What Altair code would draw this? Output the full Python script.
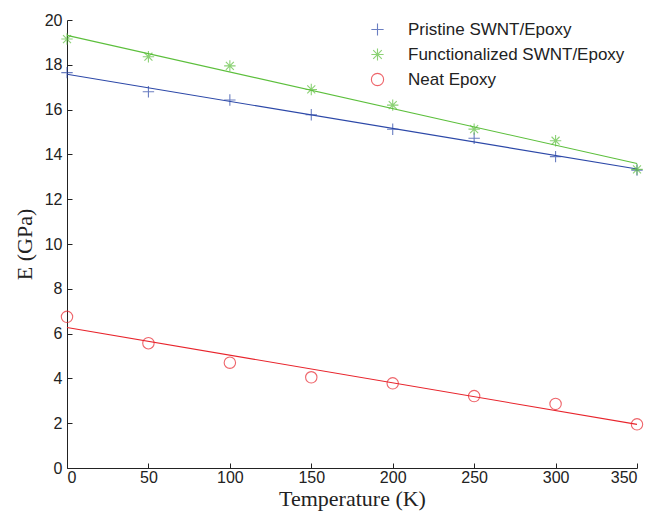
import altair as alt
import pandas as pd

temps = [0, 50, 100, 150, 200, 250, 300, 350]
pristine = [17.65, 16.80, 16.43, 15.77, 15.12, 14.72, 13.90, 13.30]
functionalized = [19.15, 18.36, 17.95, 16.90, 16.20, 15.13, 14.61, 13.33]
neat = [6.75, 5.57, 4.70, 4.05, 3.78, 3.21, 2.86, 1.95]

series_names = ["Pristine SWNT/Epoxy", "Functionalized SWNT/Epoxy", "Neat Epoxy"]
series_colors = ["#2c48a8", "#5cbf3c", "#e8242c"]
plus_path = "M-1,0L1,0M0,-1L0,1"
star_path = "M-1,0L1,0M0,-1L0,1M-0.7,-0.7L0.7,0.7M-0.7,0.7L0.7,-0.7"
circle_path = "circle"

rows = []
for name, vals in zip(series_names, [pristine, functionalized, neat]):
    for t, v in zip(temps, vals):
        rows.append({"T": t, "E": v, "series": name})
df = pd.DataFrame(rows)

xscale = alt.Scale(domain=[0, 350], nice=False, zero=False)
yscale = alt.Scale(domain=[0, 20], nice=False)
cscale = alt.Scale(domain=series_names, range=series_colors)
sscale = alt.Scale(domain=series_names, range=[plus_path, star_path, circle_path])

leg = alt.Legend(title=None, orient="none", legendX=302, legendY=1,
                 labelFont="Liberation Sans", labelFontSize=17,
                 labelColor="#222222", labelOffset=22, labelLimit=400,
                 rowPadding=7, symbolSize=150, symbolFillColor="transparent",
                 symbolStrokeWidth=1.1)

base = alt.Chart(df)

points = base.mark_point(filled=False, strokeWidth=1.1, size=130).encode(
    x=alt.X("T:Q", scale=xscale,
            axis=alt.Axis(title="Temperature (K)", values=temps)),
    y=alt.Y("E:Q", scale=yscale,
            axis=alt.Axis(title="E (GPa)", values=list(range(0, 21, 2)))),
    color=alt.Color("series:N", scale=cscale, legend=leg),
    shape=alt.Shape("series:N", scale=sscale, legend=leg),
)

lines = base.transform_regression(
    "T", "E", groupby=["series"]
).mark_line(strokeWidth=1.1).encode(
    x=alt.X("T:Q", scale=xscale),
    y=alt.Y("E:Q", scale=yscale),
    color=alt.Color("series:N", scale=cscale, legend=leg),
)

chart = alt.layer(lines, points).properties(
    width=570, height=448,
    autosize=alt.AutoSizeParams(type="none"),
    padding={"left": 59, "top": 12, "right": 7, "bottom": 50},
).configure_view(stroke=None).configure_axis(
    grid=False,
    domainColor="#222222",
    domainWidth=1,
    tickColor="#222222",
    tickSize={"expr": "-5"},
    labelFont="Liberation Sans",
    labelFontSize=16,
    labelColor="#222222",
    titleFont="Liberation Serif",
    titleFontSize=22,
    titleFontWeight="normal",
    titleColor="#222222",
).configure_axisX(
    labelPadding=6,
    titlePadding=3,
).configure_axisY(
    labelPadding=10,
    titlePadding=8,
)

chart.save("out.html", embed_options={"renderer": "svg", "actions": False})
